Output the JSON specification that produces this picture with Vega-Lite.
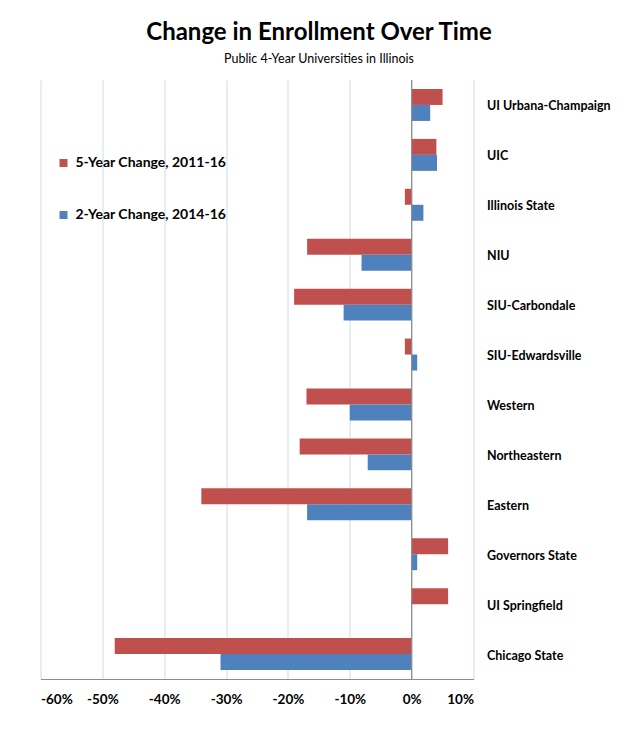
{
  "$schema": "https://vega.github.io/schema/vega-lite/v6.json",
  "autosize": "none",
  "width": 433,
  "height": 599,
  "padding": {"left": 40.5, "top": 80, "right": 158.5, "bottom": 68},
  "background": "white",
  "config": {
    "font": "Lato",
    "view": {"stroke": null}
  },
  "title": {
    "text": "Change in Enrollment Over Time",
    "subtitle": "Public 4-Year Universities in Illinois",
    "anchor": "middle",
    "frame": "group",
    "dx": 62,
    "offset": 14,
    "font": "Lato",
    "fontSize": 24,
    "fontWeight": "bold",
    "color": "#000000",
    "subtitleFont": "Lato",
    "subtitleFontSize": 12.5,
    "subtitleColor": "#000000",
    "subtitlePadding": 8
  },
  "data": {
    "values": [
      {"university": "UI Urbana-Champaign", "series": "5-Year Change, 2011-16", "value": 5.0},
      {"university": "UI Urbana-Champaign", "series": "2-Year Change, 2014-16", "value": 3.0},
      {"university": "UIC", "series": "5-Year Change, 2011-16", "value": 4.0},
      {"university": "UIC", "series": "2-Year Change, 2014-16", "value": 4.1},
      {"university": "Illinois State", "series": "5-Year Change, 2011-16", "value": -1.1},
      {"university": "Illinois State", "series": "2-Year Change, 2014-16", "value": 1.9},
      {"university": "NIU", "series": "5-Year Change, 2011-16", "value": -16.9},
      {"university": "NIU", "series": "2-Year Change, 2014-16", "value": -8.1},
      {"university": "SIU-Carbondale", "series": "5-Year Change, 2011-16", "value": -19.0},
      {"university": "SIU-Carbondale", "series": "2-Year Change, 2014-16", "value": -11.0},
      {"university": "SIU-Edwardsville", "series": "5-Year Change, 2011-16", "value": -1.1},
      {"university": "SIU-Edwardsville", "series": "2-Year Change, 2014-16", "value": 0.9},
      {"university": "Western", "series": "5-Year Change, 2011-16", "value": -17.0},
      {"university": "Western", "series": "2-Year Change, 2014-16", "value": -10.0},
      {"university": "Northeastern", "series": "5-Year Change, 2011-16", "value": -18.1},
      {"university": "Northeastern", "series": "2-Year Change, 2014-16", "value": -7.1},
      {"university": "Eastern", "series": "5-Year Change, 2011-16", "value": -34.0},
      {"university": "Eastern", "series": "2-Year Change, 2014-16", "value": -16.9},
      {"university": "Governors State", "series": "5-Year Change, 2011-16", "value": 5.9},
      {"university": "Governors State", "series": "2-Year Change, 2014-16", "value": 0.9},
      {"university": "UI Springfield", "series": "5-Year Change, 2011-16", "value": 5.9},
      {"university": "UI Springfield", "series": "2-Year Change, 2014-16", "value": 0.0},
      {"university": "Chicago State", "series": "5-Year Change, 2011-16", "value": -48.0},
      {"university": "Chicago State", "series": "2-Year Change, 2014-16", "value": -30.9}
    ]
  },
  "layer": [
    {
      "mark": {"type": "bar"},
      "encoding": {
        "y": {
          "field": "university",
          "type": "nominal",
          "sort": null,
          "scale": {"paddingInner": 0.36, "paddingOuter": 0.18},
          "axis": {
            "orient": "right",
            "title": null,
            "domain": false,
            "ticks": false,
            "grid": false,
            "labelPadding": 13,
            "labelFont": "Lato",
            "labelFontSize": 12.5,
            "labelFontWeight": "bold",
            "labelColor": "#000000",
            "labelAlign": "left",
            "labelOffset": 1.5
          }
        },
        "yOffset": {
          "field": "series",
          "type": "nominal",
          "scale": {"domain": ["5-Year Change, 2011-16", "2-Year Change, 2014-16"]}
        },
        "x": {
          "field": "value",
          "type": "quantitative",
          "scale": {"domain": [-60, 10], "nice": false, "zero": false},
          "axis": {
            "title": null,
            "values": [-60, -50, -40, -30, -20, -10, 0, 10],
            "labelExpr": "datum.value + '%'",
            "grid": true,
            "gridColor": "#CCDAEB",
            "gridWidth": 1,
            "domain": true,
            "domainColor": "#8C8C8C",
            "domainWidth": 1.2,
            "ticks": false,
            "labelPadding": 13,
            "labelFont": "Lato",
            "labelFontSize": 13.5,
            "labelFontWeight": "bold",
            "labelColor": "#000000"
          }
        },
        "color": {
          "field": "series",
          "type": "nominal",
          "scale": {
            "domain": ["5-Year Change, 2011-16", "2-Year Change, 2014-16"],
            "range": ["#C0504D", "#4F81BD"]
          },
          "legend": {
            "orient": "none",
            "legendX": 16,
            "legendY": 76,
            "title": null,
            "symbolType": "square",
            "symbolSize": 64,
            "symbolStrokeWidth": 0,
            "labelFont": "Lato",
            "labelFontSize": 14,
            "labelFontWeight": "bold",
            "labelColor": "#000000",
            "labelOffset": 5,
            "rowPadding": 38
          }
        }
      }
    },
    {
      "data": {"values": [{"zero": 0}]},
      "mark": {"type": "rule", "color": "#8C8C8C", "strokeWidth": 1.2},
      "encoding": {
        "x": {"field": "zero", "type": "quantitative"}
      }
    }
  ]
}
